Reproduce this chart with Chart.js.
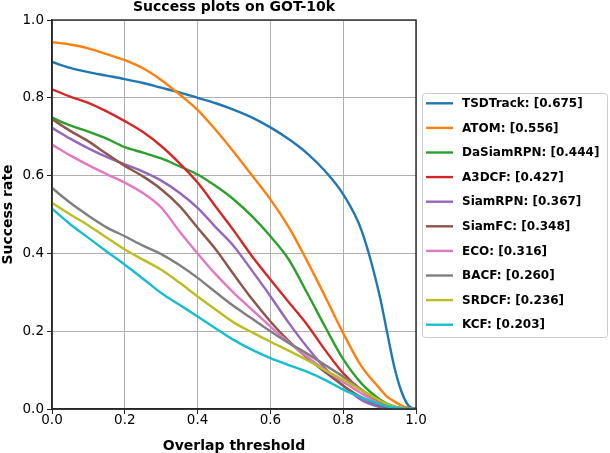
<!DOCTYPE html>
<html>
<head>
<meta charset="utf-8">
<script src="https://cdn.jsdelivr.net/npm/chart.js@4.4.1/dist/chart.umd.min.js"></script>
<style>
  html, body { margin: 0; padding: 0; background: #fff; }
  #wrap { width: 610px; height: 453px; }
</style>
</head>
<body>
<div id="wrap"><canvas id="chart" width="610" height="453"></canvas></div>
<script>
// overlap thresholds (x)
const thresholds = [0, 0.05, 0.1, 0.15, 0.2, 0.25, 0.3, 0.35, 0.4, 0.45, 0.5, 0.55, 0.6, 0.65, 0.7, 0.75, 0.8, 0.85, 0.9, 0.92, 0.94, 0.96, 0.98, 1.0];

// success rate per tracker
const tsdtrack  = [0.892, 0.877, 0.866, 0.857, 0.848, 0.838, 0.826, 0.814, 0.800, 0.786, 0.769, 0.749, 0.724, 0.694, 0.658, 0.612, 0.552, 0.460, 0.292, 0.200, 0.110, 0.045, 0.008, 0];
const atom      = [0.943, 0.937, 0.927, 0.912, 0.897, 0.876, 0.846, 0.809, 0.769, 0.717, 0.660, 0.600, 0.539, 0.468, 0.382, 0.290, 0.195, 0.110, 0.053, 0.032, 0.020, 0.009, 0.003, 0];
const dasiamrpn = [0.749, 0.729, 0.713, 0.695, 0.673, 0.659, 0.644, 0.624, 0.603, 0.573, 0.538, 0.495, 0.444, 0.385, 0.300, 0.212, 0.128, 0.066, 0.025, 0.014, 0.007, 0.002, 0, 0];
const a3dcf     = [0.822, 0.803, 0.787, 0.765, 0.740, 0.712, 0.676, 0.632, 0.582, 0.520, 0.458, 0.392, 0.333, 0.275, 0.218, 0.152, 0.092, 0.049, 0.019, 0.010, 0.005, 0.002, 0, 0];
const siamrpn   = [0.723, 0.695, 0.670, 0.648, 0.629, 0.610, 0.587, 0.556, 0.517, 0.467, 0.418, 0.355, 0.290, 0.222, 0.160, 0.105, 0.060, 0.023, 0.005, 0.002, 0.001, 0, 0, 0];
const siamfc    = [0.745, 0.715, 0.688, 0.656, 0.625, 0.598, 0.565, 0.522, 0.466, 0.410, 0.345, 0.282, 0.225, 0.175, 0.132, 0.095, 0.060, 0.030, 0.010, 0.005, 0.002, 0.001, 0, 0];
const eco       = [0.680, 0.652, 0.627, 0.604, 0.582, 0.555, 0.518, 0.457, 0.400, 0.346, 0.298, 0.255, 0.212, 0.172, 0.135, 0.100, 0.070, 0.040, 0.015, 0.008, 0.004, 0.001, 0, 0];
const bacf      = [0.568, 0.530, 0.497, 0.467, 0.444, 0.420, 0.398, 0.370, 0.337, 0.300, 0.264, 0.232, 0.200, 0.170, 0.143, 0.113, 0.083, 0.050, 0.020, 0.011, 0.005, 0.002, 0, 0];
const srdcf     = [0.530, 0.500, 0.472, 0.441, 0.410, 0.384, 0.358, 0.325, 0.289, 0.255, 0.222, 0.197, 0.173, 0.150, 0.126, 0.100, 0.075, 0.048, 0.022, 0.013, 0.006, 0.002, 0, 0];
const kcf       = [0.515, 0.475, 0.440, 0.405, 0.371, 0.335, 0.298, 0.268, 0.238, 0.207, 0.177, 0.152, 0.131, 0.113, 0.096, 0.075, 0.050, 0.030, 0.012, 0.007, 0.004, 0.002, 0, 0];

const names = ['TSDTrack', 'ATOM', 'DaSiamRPN', 'A3DCF', 'SiamRPN', 'SiamFC', 'ECO', 'BACF', 'SRDCF', 'KCF'];
const aucs  = ['0.675', '0.556', '0.444', '0.427', '0.367', '0.348', '0.316', '0.260', '0.236', '0.203'];
const series = [tsdtrack, atom, dasiamrpn, a3dcf, siamrpn, siamfc, eco, bacf, srdcf, kcf];
const colors = ['#1f77b4', '#ff7f0e', '#2ca02c', '#d62728', '#9467bd', '#8c564b', '#e377c2', '#7f7f7f', '#bcbd22', '#17becf'];
const axisTicks = [0, 0.2, 0.4, 0.6, 0.8, 1.0];

Chart.defaults.font.family = '"DejaVu Sans", sans-serif';
Chart.defaults.color = '#000';

const datasets = series.map((vals, i) => ({
  label: names[i] + ': [' + aucs[i] + ']',
  data: thresholds.map((t, j) => ({ x: t, y: vals[j] })),
  borderColor: colors[i],
  backgroundColor: colors[i],
  borderWidth: 2.4,
  pointRadius: 0,
  cubicInterpolationMode: 'monotone',
  order: series.length - i  // later series on top, like matplotlib
}));

// box around the plot + legend outside on the right
const frameAndLegend = {
  id: 'frameAndLegend',
  afterDraw(chart) {
    const { ctx, chartArea: a } = chart;
    ctx.save();
    ctx.strokeStyle = '#262626';
    ctx.lineWidth = 1.4;
    ctx.strokeRect(a.left, a.top, a.right - a.left, a.bottom - a.top);

    const bx = 422, by = 93, bw = 185, bh = 244, r = 3;
    ctx.beginPath();
    ctx.roundRect(bx + 0.5, by + 0.5, bw, bh, r);
    ctx.fillStyle = 'rgba(255,255,255,0.8)';
    ctx.fill();
    ctx.strokeStyle = '#cccccc';
    ctx.lineWidth = 1;
    ctx.stroke();

    ctx.font = 'bold 12px "DejaVu Sans", sans-serif';
    ctx.textBaseline = 'middle';
    ctx.textAlign = 'left';
    chart.data.datasets.forEach((ds, i) => {
      const y = 103.3 + i * 24.6;
      ctx.strokeStyle = ds.borderColor;
      ctx.lineWidth = 2.4;
      ctx.beginPath();
      ctx.moveTo(426, y);
      ctx.lineTo(453, y);
      ctx.stroke();
      ctx.fillStyle = '#000';
      ctx.fillText(ds.label, 462, y + 0.5);
    });
    ctx.restore();
  }
};

new Chart(document.getElementById('chart'), {
  type: 'line',
  data: { datasets },
  plugins: [frameAndLegend],
  options: {
    responsive: false,
    animation: false,
    devicePixelRatio: 1,
    layout: { padding: { left: 0, right: 194, top: 0, bottom: 0 } },
    plugins: {
      legend: { display: false },
      tooltip: { enabled: false },
      title: {
        display: true,
        fullSize: false,
        text: 'Success plots on GOT-10k',
        color: '#000',
        font: { size: 14, weight: 'bold', lineHeight: 1 },
        padding: { top: 0, bottom: 6 }
      }
    },
    scales: {
      x: {
        type: 'linear',
        min: 0,
        max: 1,
        afterFit: s => { s.height = 44; },
        afterBuildTicks: s => { s.ticks = axisTicks.map(v => ({ value: v })); },
        ticks: {
          callback: v => v.toFixed(1),
          font: { size: 13.5, lineHeight: 1 },
          padding: 0,
          maxRotation: 0
        },
        grid: { color: '#b0b0b0', lineWidth: 1, tickColor: '#262626', tickLength: 5 },
        border: { color: '#262626', width: 1.4 },
        title: {
          display: true,
          text: 'Overlap threshold',
          font: { size: 14, weight: 'bold' },
          padding: { top: 0, bottom: -2 }
        }
      },
      y: {
        type: 'linear',
        min: 0,
        max: 1,
        afterFit: s => { s.width = 52; },
        afterBuildTicks: s => { s.ticks = axisTicks.map(v => ({ value: v })); },
        ticks: {
          callback: v => v.toFixed(1),
          font: { size: 13.5 },
          padding: 3
        },
        grid: { color: '#b0b0b0', lineWidth: 1, tickColor: '#262626', tickLength: 5 },
        border: { color: '#262626', width: 1.4 },
        title: {
          display: true,
          text: 'Success rate',
          font: { size: 14, weight: 'bold' },
          padding: { top: 0, bottom: 0 }
        }
      }
    }
  }
});
</script>
</body>
</html>
